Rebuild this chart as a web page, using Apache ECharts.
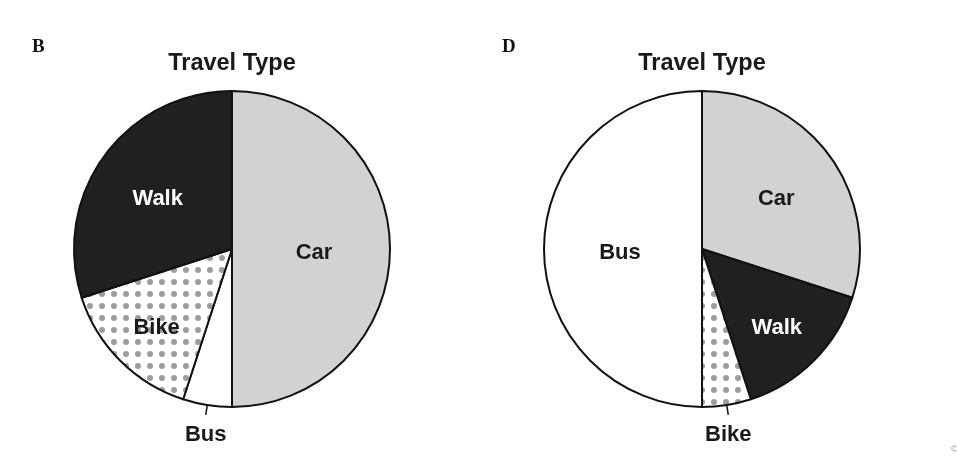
<!DOCTYPE html>
<html><head><meta charset="utf-8">
<script src="https://cdn.jsdelivr.net/npm/echarts@6/dist/echarts.min.js"></script>
<style>html,body{margin:0;padding:0;background:#fff}#c{width:957px;height:472px}</style>
</head><body><div id="c"></div>
<script>
// ---- data ----
const panelLetters = ['B', 'D'];
const chartTitle = 'Travel Type';
const categoriesB = ['Car', 'Bus', 'Bike', 'Walk'];
const valuesB = [50, 5, 15, 30];
const categoriesD = ['Car', 'Walk', 'Bike', 'Bus'];
const valuesD = [30, 15, 5, 50];

// ---- styles ----
const pieCenters = [[232, 249], [702, 249]];
const pieRadius = 158;
const labelRadiusFactor = { B: { Car: 1.0, Walk: 1.12, Bike: 1.3 }, D: { Car: 1.12, Walk: 1.29, Bus: 1.0 } };
const labelDy = 4;
const outsideLabel = { B: 'Bus', D: 'Bike' };

function dotPattern() {
  const c = document.createElement('canvas');
  c.width = 12; c.height = 12;
  const g = c.getContext('2d');
  g.fillStyle = '#fff'; g.fillRect(0, 0, 12, 12);
  g.fillStyle = '#9d9d9d';
  g.beginPath(); g.arc(6, 6, 3, 0, Math.PI * 2); g.fill();
  return c;
}
const fills = { Car: '#d2d2d2', Walk: '#221f20', Bus: '#ffffff', Bike: { image: dotPattern(), repeat: 'repeat' } };
const labelColors = { Car: '#1a1a1a', Walk: '#ffffff', Bus: '#1a1a1a', Bike: '#1a1a1a' };
const fontFam = '"Liberation Sans", Arial, Helvetica, sans-serif';

function buildSeries(panel, idx, cats, vals) {
  const center = pieCenters[idx];
  return {
    type: 'pie',
    center: center,
    radius: pieRadius,
    startAngle: 90,
    clockwise: true,
    silent: true,
    animation: false,
    avoidLabelOverlap: false,
    itemStyle: { borderColor: '#111', borderWidth: 2 },
    label: { show: true, position: 'inside', formatter: '{b}', fontFamily: fontFam, fontWeight: 'bold', fontSize: 22 },
    labelLine: { show: false },
    data: cats.map((c, i) => {
      const isOut = outsideLabel[panel] === c;
      return {
        name: c, value: vals[i],
        itemStyle: { color: fills[c] },
        label: isOut ? { position: 'outside', color: labelColors[c] } : { color: labelColors[c] },
        labelLine: isOut ? { show: true, length: 10, length2: 0, lineStyle: { color: '#111', width: 1.5 } } : { show: false }
      };
    }),
    labelLayout: function (p) {
      const name = cats[p.dataIndex];
      if (outsideLabel[panel] === name && p.labelLinePoints) {
        const pts = p.labelLinePoints;
        return { x: pts[1][0], y: pts[1][1] + 9, align: 'center', verticalAlign: 'top',
                 labelLinePoints: [pts[0], pts[1], pts[1]] };
      }
      const k = labelRadiusFactor[panel][name] || 1;
      const lx = p.labelRect.x + p.labelRect.width / 2;
      const ly = p.labelRect.y + p.labelRect.height / 2;
      return { x: center[0] + (lx - center[0]) * k, y: center[1] + (ly - center[1]) * k + labelDy, align: 'center', verticalAlign: 'middle' };
    }
  };
}

const chart = echarts.init(document.getElementById('c'), null, { renderer: 'canvas' });
chart.setOption({
  backgroundColor: '#ffffff',
  animation: false,
  graphic: [
    { type: 'text', left: 32, top: 38, style: { text: panelLetters[0], font: 'bold 19px "Liberation Serif", "DejaVu Serif", serif', fill: '#111' } },
    { type: 'text', left: 502, top: 38, style: { text: panelLetters[1], font: 'bold 19px "Liberation Serif", "DejaVu Serif", serif', fill: '#111' } },
    { type: 'text', x: pieCenters[0][0], y: 64, style: { text: chartTitle, font: 'bold 23.5px ' + fontFam, fill: '#1a1a1a', align: 'center', verticalAlign: 'middle' } },
    { type: 'text', x: pieCenters[1][0], y: 64, style: { text: chartTitle, font: 'bold 23.5px ' + fontFam, fill: '#1a1a1a', align: 'center', verticalAlign: 'middle' } },
    { type: 'text', x: 951, y: 450, style: { text: '©', font: '9px ' + fontFam, fill: '#999', verticalAlign: 'middle' } }
  ],
  series: [
    buildSeries('B', 0, categoriesB, valuesB),
    buildSeries('D', 1, categoriesD, valuesD)
  ]
});
</script></body></html>
